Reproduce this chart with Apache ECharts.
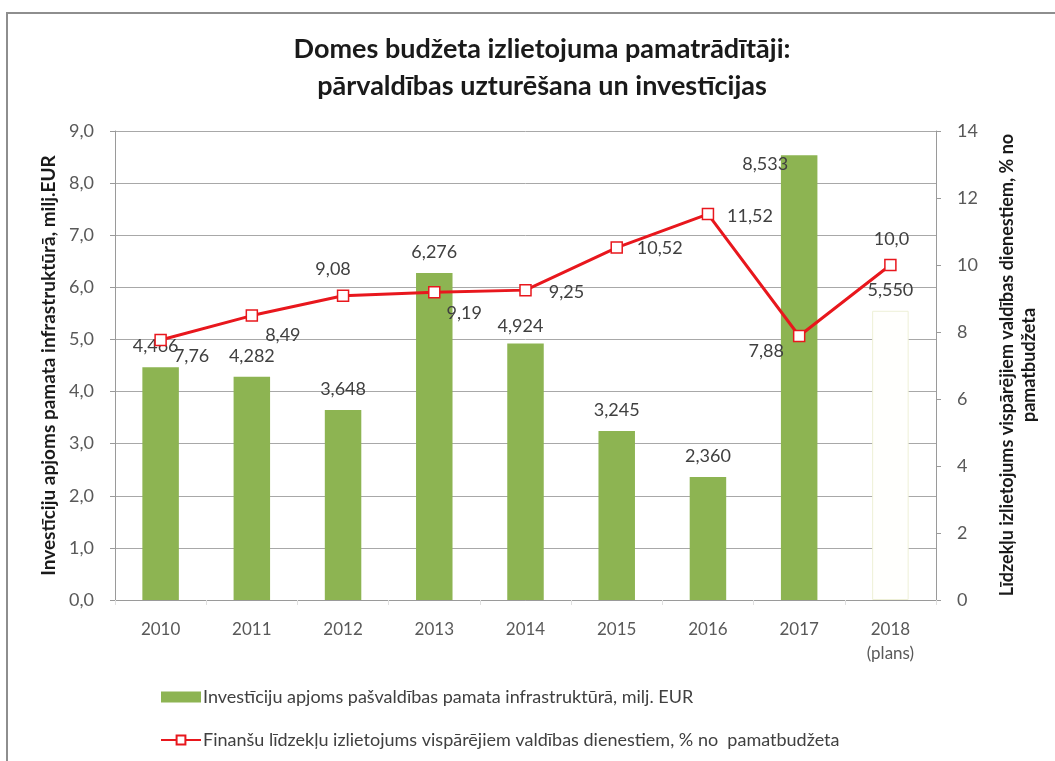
<!DOCTYPE html>
<html>
<head>
<meta charset="utf-8">
<script src="https://cdn.jsdelivr.net/npm/echarts@6/dist/echarts.min.js"></script>
<style>
  html, body { margin: 0; padding: 0; background: #ffffff; }
  #chart { width: 1055px; height: 761px; }
</style>
</head>
<body>
<div id="chart"></div>
<script>
// Years on the category axis
const years = ['2010', '2011', '2012', '2013', '2014', '2015', '2016', '2017', '2018\n(plans)'];
// Investment in municipal basic infrastructure, mln EUR (left axis)
const investment = [4.466, 4.282, 3.648, 6.276, 4.924, 3.245, 2.360, 8.533, 5.550];
// Spending on general government services, % of base budget (right axis)
const serviceShare = [7.76, 8.49, 9.08, 9.19, 9.25, 10.52, 11.52, 7.88, 10.0];
// Decimals shown in each percentage label
const shareDecimals = [2, 2, 2, 2, 2, 2, 2, 2, 1];
// Tick labels
const leftTicks = ['0,0', '1,0', '2,0', '3,0', '4,0', '5,0', '6,0', '7,0', '8,0', '9,0'];
const rightTicks = ['0', '2', '4', '6', '8', '10', '12', '14'];

const barName = 'Investīciju apjoms pašvaldības pamata infrastruktūrā, milj. EUR';
const lineName = 'Finanšu līdzekļu izlietojums vispārējiem valdības dienestiem, % no  pamatbudžeta';

// Label placement for the percentage points: [dx, dy] from the marker
const lineLabelOffsets = [[31, 16], [31, 20], [-10, -27], [30, 21], [41, 2], [43, 1], [42, 2], [-33, 15], [1, -26]];
// Label placement for the bar values: [dx, dy] relative to the default top position
const barLabelOffsets = [[-5, 0], [0, 0], [0, 0], [0, 0], [-5, 4], [0, 0], [0, 0], [-34, 30], [0, 0]];

const FONT = 'Lato, "Open Sans", sans-serif';
const GREEN = '#8db452';
const RED = '#e8171d';

const comma = (v, d) => v.toFixed(d).replace('.', ',');

const barData = investment.map((v, i) => {
  const item = {
    value: v,
    label: { offset: barLabelOffsets[i] }
  };
  if (i === investment.length - 1) {
    // planned year: hollow bar
    item.itemStyle = { color: '#fffffd', borderColor: '#eef0d6', borderWidth: 1 };
  }
  return item;
});

const lineData = serviceShare.map((v, i) => ({
  value: v,
  label: { offset: lineLabelOffsets[i] }
}));

const chart = echarts.init(document.getElementById('chart'), null, { renderer: 'canvas' });

chart.setOption({
  backgroundColor: '#ffffff',
  animation: false,
  title: {
    text: 'Domes budžeta izlietojuma pamatrādītāji:\npārvaldības uzturēšana un investīcijas',
    left: 537,
    textAlign: 'center',
    top: 26,
    textStyle: { fontFamily: FONT, fontSize: 27, fontWeight: 'bold', color: '#1a1a1a', lineHeight: 37 }
  },
  graphic: [
    {
      type: 'rect',
      shape: { x: 7, y: 13, width: 1100, height: 800 },
      style: { fill: 'none', stroke: '#8e8e8e', lineWidth: 2 },
      silent: true
    },
    {
      type: 'text',
      x: 1018,
      y: 365,
      rotation: Math.PI / 2,
      style: {
        text: 'Līdzekļu izlietojums vispārējiem valdības dienestiem, % no\npamatbudžeta',
        fontFamily: FONT,
        fontSize: 18,
        fontWeight: 'bold',
        fill: '#1a1a1a',
        align: 'center',
        verticalAlign: 'middle',
        lineHeight: 22
      }
    }
  ],
  legend: {
    orient: 'vertical',
    left: 155,
    top: 682,
    itemGap: 23,
    itemWidth: 40,
    itemHeight: 11,
    textStyle: { fontFamily: FONT, fontSize: 18, color: '#404040', lineHeight: 20, padding: [0, 0, 0, -3] },
    data: [
      { name: barName, icon: 'rect' },
      { name: lineName }
    ]
  },
  grid: { left: 115, right: 119, top: 131, bottom: 161 },
  xAxis: {
    type: 'category',
    data: years,
    axisLine: { lineStyle: { color: '#9a9a9a', width: 1 } },
    axisTick: { show: true, length: 5, lineStyle: { color: '#e0e0e0' } },
    axisLabel: { fontFamily: FONT, fontSize: 17, color: '#595959', margin: 18, lineHeight: 24 }
  },
  yAxis: [
    {
      type: 'value',
      min: 0,
      max: 9,
      interval: 1,
      name: 'Investīciju apjoms pamata infrastruktūrā, milj.EUR',
      nameLocation: 'middle',
      nameGap: 57,
      nameTextStyle: { fontFamily: FONT, fontSize: 19, fontWeight: 'bold', color: '#1a1a1a' },
      axisLine: { show: true, lineStyle: { color: '#9a9a9a' } },
      axisTick: { show: true, length: 5, lineStyle: { color: '#9a9a9a' } },
      axisLabel: { fontFamily: FONT, fontSize: 18, color: '#595959', margin: 21, formatter: (v) => leftTicks[Math.round(v)] },
      splitLine: { lineStyle: { color: '#a8a8a8', width: 1 } }
    },
    {
      type: 'value',
      min: 0,
      max: 14,
      interval: 2,
      position: 'right',
      axisLine: { show: true, lineStyle: { color: '#9a9a9a' } },
      axisTick: { show: true, length: 5, lineStyle: { color: '#9a9a9a' } },
      axisLabel: { fontFamily: FONT, fontSize: 18, color: '#595959', margin: 21, formatter: (v) => rightTicks[Math.round(v / 2)] },
      splitLine: { show: false }
    }
  ],
  series: [
    {
      name: barName,
      type: 'bar',
      yAxisIndex: 0,
      data: barData,
      barWidth: '40%',
      itemStyle: { color: GREEN },
      label: {
        show: true,
        position: 'top',
        distance: 12,
        fontFamily: FONT,
        fontSize: 18,
        color: '#404040',
        formatter: (p) => comma(p.value, 3)
      },
      z: 2
    },
    {
      name: lineName,
      type: 'line',
      yAxisIndex: 1,
      data: lineData,
      symbol: 'rect',
      symbolSize: 11,
      lineStyle: { color: RED, width: 3 },
      itemStyle: { color: '#ffffff', borderColor: RED, borderWidth: 1.5 },
      label: {
        show: true,
        position: 'inside',
        fontFamily: FONT,
        fontSize: 18,
        color: '#404040',
        formatter: (p) => comma(p.value, shareDecimals[p.dataIndex])
      },
      z: 3
    }
  ]
});
</script>
</body>
</html>
